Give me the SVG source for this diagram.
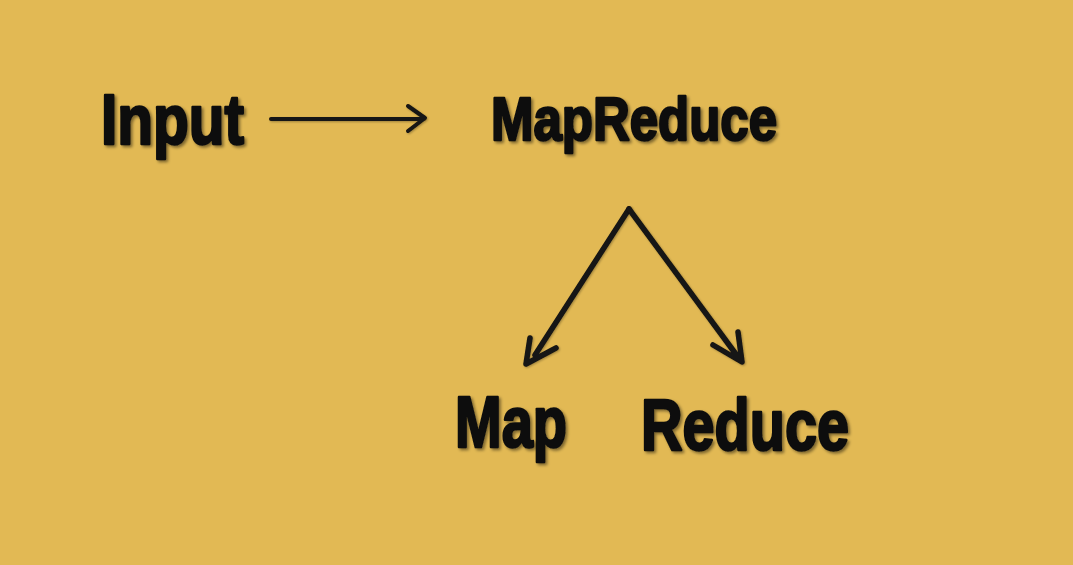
<svg xmlns="http://www.w3.org/2000/svg" width="1073" height="565" viewBox="0 0 1073 565">
  <style>
    .lbl { font-family: "Liberation Sans Narrow", "Liberation Sans", Arial, sans-serif; font-weight: bold; fill: #111111; stroke: #111111; stroke-width: 2.5; stroke-linejoin: round; filter: url(#shadow); }
    .con { fill: none; stroke: #161412; stroke-linecap: round; stroke-linejoin: round; filter: url(#soft); }
  </style>
  <defs>
    <filter id="shadow" x="-10%" y="-20%" width="130%" height="150%">
      <feDropShadow dx="2" dy="2" stdDeviation="1.5" flood-color="#000000" flood-opacity="0.45"/>
    </filter>
    <filter id="soft" x="-10%" y="-10%" width="130%" height="130%">
      <feDropShadow dx="1" dy="1" stdDeviation="1" flood-color="#000000" flood-opacity="0.3"/>
    </filter>
  </defs>
  <rect width="1073" height="565" fill="#E2B954"/>
  <g id="connectors">
    <path class="con" stroke-width="4" d="M271 119 L424 119 M408 106 L425 118 L408 131"/>
    <path class="con" stroke-width="5.5" d="M629 209 L535 355 M530 338 L526 364 L556 348"/>
    <path class="con" stroke-width="5.5" d="M629 209 L738 357 M738 332 L742 362 L713 345"/>
  </g>
  <g id="node-input">
    <text class="lbl" x="101" y="144" font-size="70" textLength="143" lengthAdjust="spacingAndGlyphs">Input</text>
  </g>
  <g id="node-mapreduce">
    <text class="lbl" x="491" y="140" font-size="62" textLength="286" lengthAdjust="spacingAndGlyphs">MapReduce</text>
  </g>
  <g id="node-map">
    <text class="lbl" x="455" y="447" font-size="72" textLength="112" lengthAdjust="spacingAndGlyphs">Map</text>
  </g>
  <g id="node-reduce">
    <text class="lbl" x="641" y="450" font-size="72" textLength="208" lengthAdjust="spacingAndGlyphs">Reduce</text>
  </g>
</svg>
